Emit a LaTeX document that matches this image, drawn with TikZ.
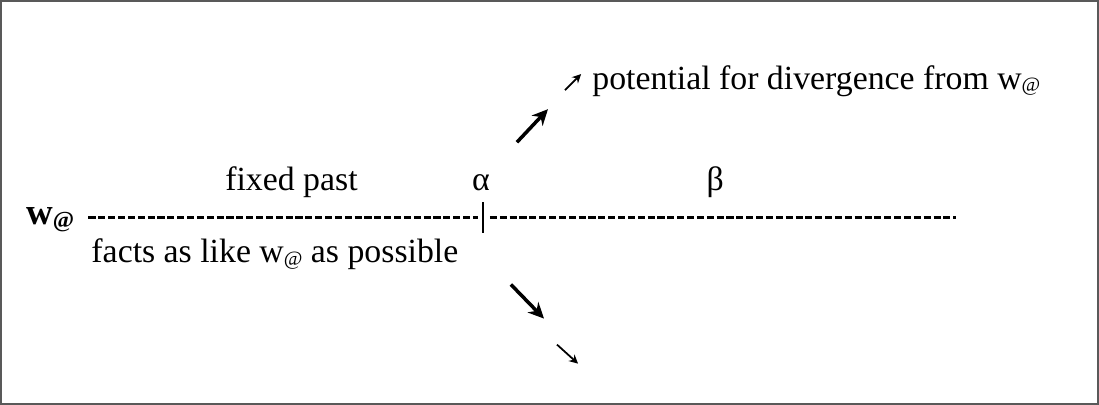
\documentclass[tikz,border=0pt]{standalone}
\usepackage{fontspec}
\setmainfont{Liberation Serif}
\usetikzlibrary{arrows.meta}
\newcommand{\wat}{w\raisebox{-1.5pt}{\fontsize{11.5}{12}\selectfont @}}
\tikzset{
  lbl/.style={inner sep=0pt, anchor=base, font=\fontsize{19.2}{22}\selectfont},
  bigarr/.style={line width=2pt, -{Stealth[length=9pt, width=8.5pt]}},
  smallarr/.style={line width=1pt, -{Stealth[length=5pt, width=5pt]}},
  timeline/.style={line width=1.6pt, dash pattern=on 4pt off 1.6pt}
}
\begin{document}
\begin{tikzpicture}[x=0.02cm, y=-0.02cm]
  \draw[gray!70!black, line width=1.1pt] (2,1) rectangle (1097,403);

  \node[lbl, font=\fontsize{21}{24}\selectfont\bfseries] (wat) at (51,224) {w\raisebox{-1.5pt}{\fontsize{13}{14}\selectfont @}};
  \coordinate (cut) at (483,217);
  \coordinate (cuttop) at (483,202);
  \coordinate (cutbot) at (483,233);
  \coordinate (lineend) at (955,217);

  \node[lbl] (past) at (292,190) {fixed past};
  \node[lbl] (alpha) at (481,190) {α};
  \node[lbl] (beta) at (715,190) {β};
  \node[lbl, anchor=base west] (facts) at (92,262) {facts as like \wat{} as possible};
  \node[lbl, anchor=base west] (diverge) at (592,89) {potential for divergence from \wat};

  % the timeline, cut at alpha
  \draw[timeline] ([xshift=8pt]wat.east |- cut) -- ([xshift=-3pt]cut);
  \draw[timeline] ([xshift=4pt]cut) -- (lineend);
  \draw[line width=1.2pt] (cuttop) -- (cutbot);

  % branching arrows
  \coordinate (up0) at (517,142);
  \coordinate (up1) at (548,109);
  \coordinate (dn0) at (511,284);
  \coordinate (dn1) at (544,318);
  \coordinate (sdn0) at (557,344);
  \coordinate (sdn1) at (578,363);
  \coordinate (sup0) at (565,90);
  \coordinate (sup1) at (581,74);
  \draw[bigarr] (up0) -- (up1);
  \draw[bigarr] (dn0) -- (dn1);
  \draw[smallarr] (sdn0) -- (sdn1);
  \draw[smallarr] (sup0) -- (sup1);
\end{tikzpicture}
\end{document}
